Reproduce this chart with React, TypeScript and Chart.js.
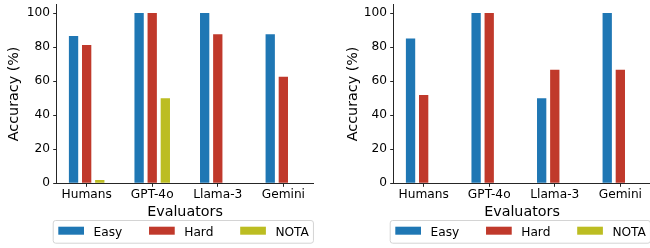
import React, { useEffect, useRef } from 'react';
import { Chart, registerables } from 'chart.js';

Chart.register(...registerables);

// ---------- data ----------
const categories = ['Humans', 'GPT-4o', 'Llama-3', 'Gemini'];
const seriesNames = ['Easy', 'Hard', 'NOTA'];
const seriesColors = ['#1f77b4', '#c0392b', '#bcbd22'];
const yTicks = [0, 20, 40, 60, 80, 100];

const leftEasy = [86.5, 100, 100, 87.5];
const leftHard = [81.2, 100, 87.5, 62.5];
const leftNota = [2, 50, 0, 0];

const rightEasy = [85.1, 100, 50, 100];
const rightHard = [51.8, 100, 66.7, 66.7];
const rightNota = [0, 0, 0, 0];

const xTitle = 'Evaluators';
const yTitle = 'Accuracy (%)';

// ---------- style ----------
const FONT = "'DejaVu Sans', 'Liberation Sans', sans-serif";
const TICK_SIZE = 12.2;
const LABEL_SIZE = 14.3;
const AXIS_COLOR = '#262626';
const CANVAS_W = 330;
const CANVAS_H = 248;

const boxLegend = {
  id: 'boxLegend',
  afterDraw(chart: any, _args: any, opts: any) {
    const ctx = chart.ctx as CanvasRenderingContext2D;
    const area = chart.chartArea;
    const boxLeft = area.left + opts.offsetX;
    const boxTop = opts.top;
    const boxH = opts.height;
    const handleW = 25.7;
    const handleH = 8;
    const textPad = 9.5;
    const colSpace = 26.8;
    const padL = 5.6;
    const padR = 4;
    ctx.save();
    ctx.font = `${TICK_SIZE}px ${FONT}`;
    const items = chart.data.datasets.map((d: any) => ({
      label: d.label as string,
      color: d.backgroundColor as string,
      w: ctx.measureText(d.label).width,
    }));
    let total = padL;
    items.forEach((it: any, i: number) => {
      total += handleW + textPad + it.w + (i < items.length - 1 ? colSpace : 0);
    });
    total += padR;
    // frame
    ctx.beginPath();
    (ctx as any).roundRect(boxLeft + 0.5, boxTop + 0.5, total, boxH, 2.5);
    ctx.fillStyle = 'rgba(255,255,255,0.8)';
    ctx.fill();
    ctx.strokeStyle = '#d4d4d4';
    ctx.lineWidth = 1;
    ctx.stroke();
    // items
    let x = boxLeft + padL;
    items.forEach((it: any) => {
      ctx.fillStyle = it.color;
      ctx.fillRect(x, opts.patchTop, handleW, handleH);
      ctx.fillStyle = '#000';
      ctx.textAlign = 'left';
      ctx.textBaseline = 'alphabetic';
      ctx.fillText(it.label, x + handleW + textPad, opts.textBaseline);
      x += handleW + textPad + it.w + colSpace;
    });
    ctx.restore();
  },
};

function Panel({ easy, hard, nota, left, yTitlePad }: { easy: number[]; hard: number[]; nota: number[]; left: number; yTitlePad: number }) {
  const ref = useRef<HTMLCanvasElement | null>(null);
  useEffect(() => {
    if (!ref.current) return;
    const series = [easy, hard, nota];
    const chart = new Chart(ref.current, {
      type: 'bar',
      data: {
        datasets: series.map((vals, si) => ({
          label: seriesNames[si],
          data: vals.map((v, i) => ({ x: i, y: v })),
          backgroundColor: seriesColors[si],
          borderWidth: 0,
          categoryPercentage: 0.6,
          barPercentage: 0.71,
        })),
      },
      options: {
        responsive: false,
        animation: false,
        devicePixelRatio: 1,
        layout: { padding: { top: 4.5, left: 0, right: CANVAS_W - 313.3, bottom: 0 } },
        plugins: {
          legend: { display: false },
          tooltip: { enabled: false },
          boxLegend: { offsetX: -4, top: 220, height: 22.7, patchTop: 226.7, textBaseline: 236 },
        } as any,
        scales: {
          x: {
            type: 'linear',
            min: -0.457,
            max: 3.457,
            offset: false,
            afterBuildTicks: (s: any) => {
              s.ticks = categories.map((_, i) => ({ value: i }));
            },
            afterFit: (s: any) => {
              s.height = CANVAS_H - 183.3;
              s.paddingLeft = 0;
              s.paddingRight = 0;
            },
            ticks: {
              autoSkip: false,
              maxRotation: 0,
              padding: 1,
              color: '#000',
              font: { family: FONT, size: TICK_SIZE },
              callback: (v: any) => categories[v] ?? '',
            },
            grid: {
              drawOnChartArea: false,
              drawTicks: true,
              offset: false,
              tickLength: 3.5,
              tickColor: AXIS_COLOR,
              tickWidth: 1,
            },
            border: { display: true, color: AXIS_COLOR, width: 1 },
            title: {
              display: true,
              text: xTitle,
              color: '#000',
              font: { family: FONT, size: LABEL_SIZE },
              padding: { top: 0, bottom: 27.1 },
            },
          },
          y: {
            type: 'linear',
            min: 0,
            max: 105,
            afterBuildTicks: (s: any) => {
              s.ticks = yTicks.map((v) => ({ value: v }));
            },
            afterFit: (s: any) => {
              s.width = 56.7;
              s.paddingTop = 0;
              s.paddingBottom = 0;
            },
            ticks: {
              padding: 3.2,
              color: '#000',
              font: { family: FONT, size: TICK_SIZE },
            },
            grid: {
              drawOnChartArea: false,
              drawTicks: true,
              tickLength: 3.5,
              tickColor: AXIS_COLOR,
              tickWidth: 1,
            },
            border: { display: true, color: AXIS_COLOR, width: 1 },
            title: {
              display: true,
              text: yTitle,
              color: '#000',
              font: { family: FONT, size: LABEL_SIZE },
              padding: { top: yTitlePad, bottom: 0 },
            },
          },
        },
      } as any,
      plugins: [boxLegend as any],
    });
    return () => chart.destroy();
  }, [easy, hard, nota, yTitlePad]);
  return (
    <canvas
      ref={ref}
      width={CANVAS_W}
      height={CANVAS_H}
      style={{ position: 'absolute', left, top: 0, width: CANVAS_W, height: CANVAS_H }}
    />
  );
}

export default function App() {
  return (
    <div
      style={{
        position: 'fixed',
        left: 0,
        top: 0,
        width: 650,
        height: 248,
        overflow: 'hidden',
        background: '#fff',
      }}
    >
      <Panel easy={leftEasy} hard={leftHard} nota={leftNota} left={0} yTitlePad={5.9} />
      <Panel easy={rightEasy} hard={rightHard} nota={rightNota} left={337} yTitlePad={7.4} />
    </div>
  );
}
